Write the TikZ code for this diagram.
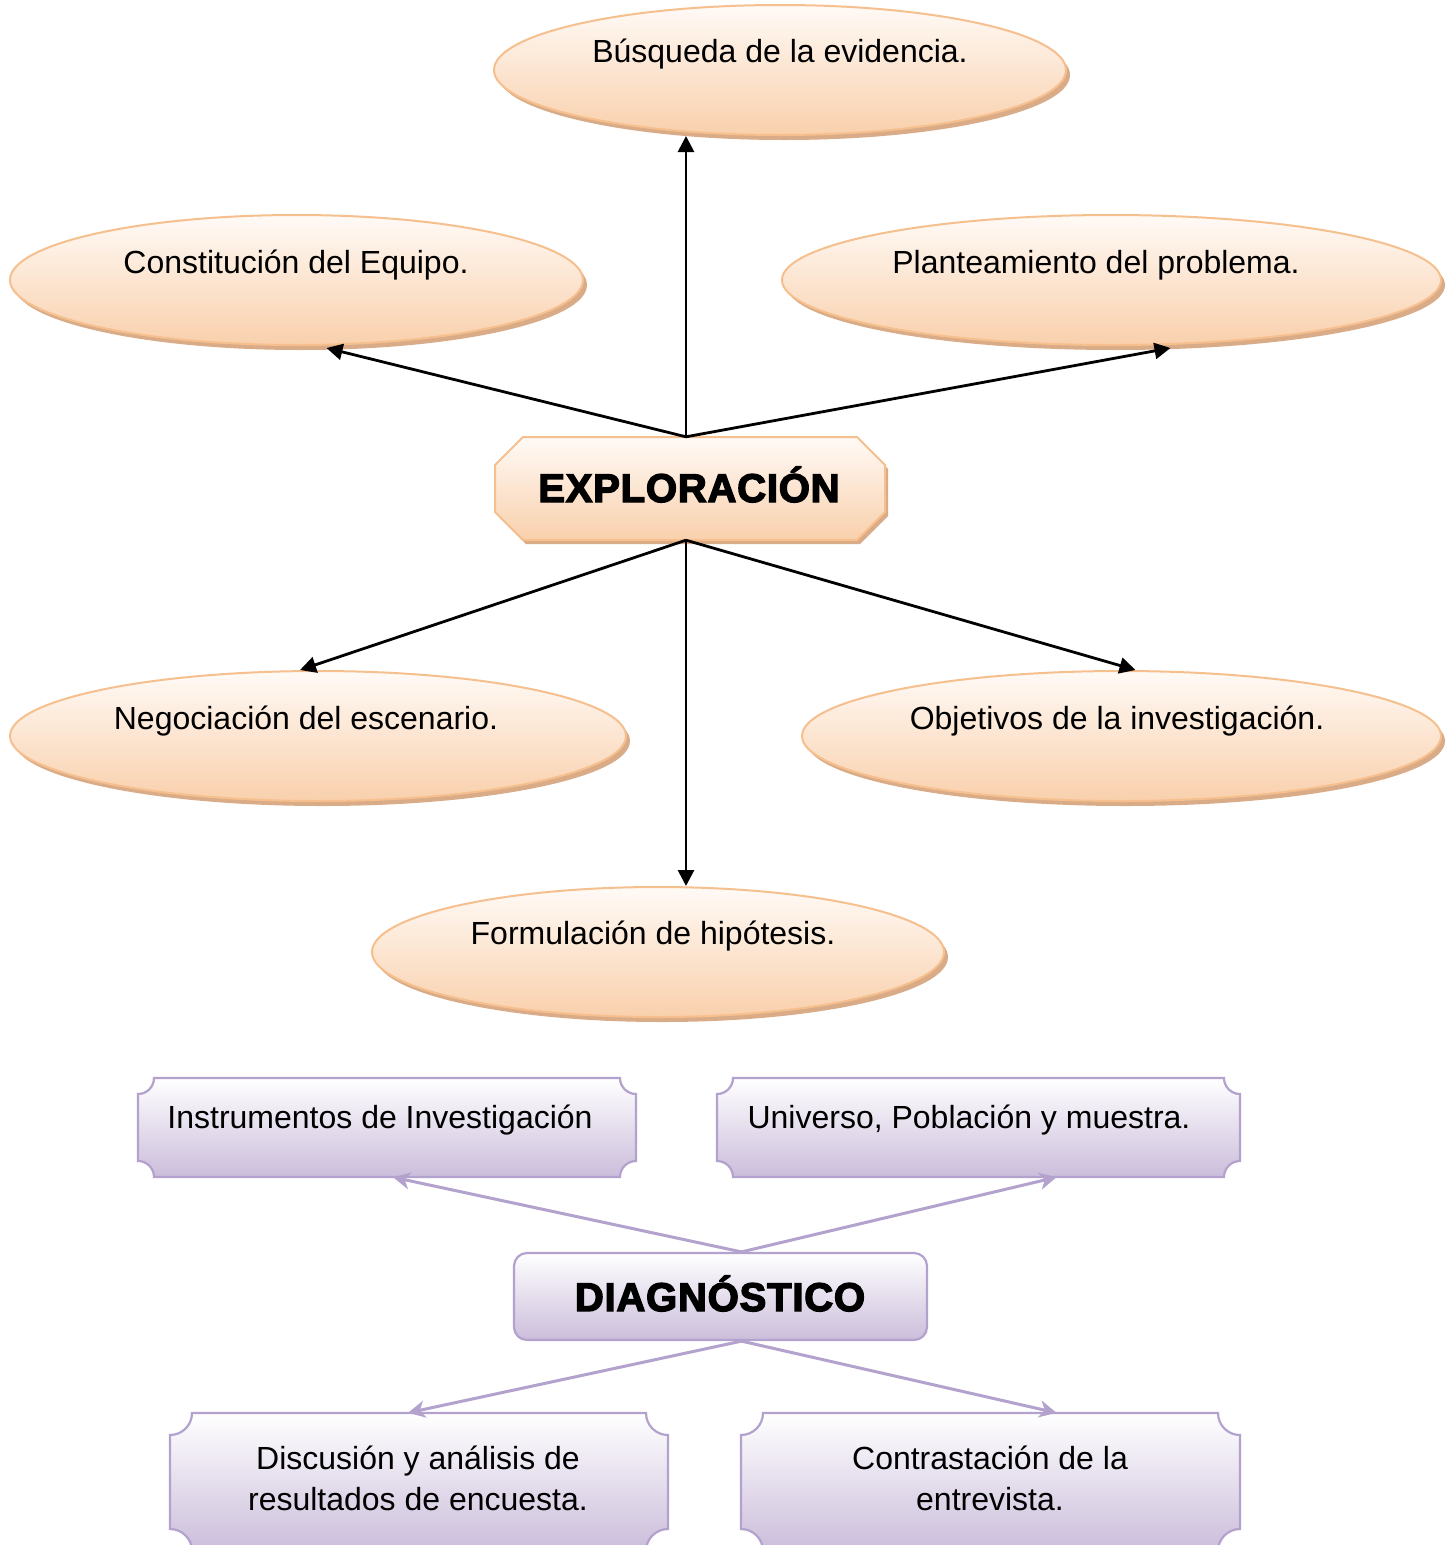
\documentclass[tikz,border=0pt]{standalone}
\usepackage{fontspec}
\setmainfont{Liberation Sans}
\newfontfamily\heavyfont{Liberation Sans}[BoldFeatures={FakeBold=3.5,LetterSpace=2}]
\usetikzlibrary{shapes.geometric,shapes.misc,shadows,arrows.meta,calc}
\definecolor{peachtop}{HTML}{FFFAF6}
\definecolor{peachbot}{HTML}{F9D0AC}
\definecolor{peachline}{HTML}{F6BF8E}
\definecolor{peachshadow}{HTML}{D9AB87}
\definecolor{lavtop}{HTML}{FFFFFF}
\definecolor{lavbot}{HTML}{CBBDDB}
\definecolor{lavline}{HTML}{B2A2CD}
\newcommand\plaque[5]{%
  \path[plaq] (#1+#5,#2) -- (#3-#5,#2) arc[start angle=180,end angle=90,radius=#5]
    -- (#3,#4-#5) arc[start angle=270,end angle=180,radius=#5]
    -- (#1+#5,#4) arc[start angle=0,end angle=-90,radius=#5]
    -- (#1,#2+#5) arc[start angle=90,end angle=0,radius=#5] -- cycle;}
\begin{document}
\begin{tikzpicture}[x=1pt,y=-1pt,
  ovalbox/.style={ellipse, draw=peachline, line width=2pt, top color=peachtop,
    bottom color=peachbot, inner sep=0pt, minimum height=130pt,
    drop shadow={shadow xshift=4pt, shadow yshift=-5pt, fill=peachshadow, opacity=1}},
  ovaltext/.style={font=\fontsize{32}{38}\selectfont, inner sep=0pt, anchor=base},
  octpath/.style={draw=peachline, line width=2pt, top color=peachtop, bottom color=peachbot,
    drop shadow={shadow xshift=3pt, shadow yshift=-4pt, fill=peachshadow, opacity=1}},
  heavytext/.style={font=\heavyfont\bfseries\fontsize{40}{48}\selectfont, inner sep=0pt, anchor=base},
  plaq/.style={draw=lavline, line width=2.2pt, top color=lavtop, bottom color=lavbot},
  anchorbox/.style={rectangle, inner sep=0pt, draw=none},
  boxtext/.style={font=\fontsize{32}{41}\selectfont, inner sep=0pt, align=center},
  diagbox/.style={rectangle, rounded corners=13pt, draw=lavline, line width=2.2pt,
    top color=lavtop, bottom color=lavbot, minimum width=413pt, minimum height=87pt,
    inner sep=0pt},
  blkarrow/.style={line width=2.8pt, -{Triangle[length=16pt,width=16pt]}},
  lavarrow/.style={draw=lavline, line width=3pt,
    -{Stealth[length=17pt,width=17pt,inset=5pt]}}
]
\useasboundingbox (0,0) rectangle (1452,1545);
\fill[white] (0,0) rectangle (1452,1545);

% ---- EXPLORACION section
\node[ovalbox, minimum width=572pt] (busq) at (780,70) {};
\node[ovaltext] (busqt) at (780,62) {Búsqueda de la evidencia.};
\node[ovalbox, minimum width=573pt] (const) at (296.5,280) {};
\node[ovaltext] (constt) at (296,273) {Constitución del Equipo.};
\node[ovalbox, minimum width=659pt] (plan) at (1111.5,280) {};
\node[ovaltext] (plant) at (1096,273) {Planteamiento del problema.};
\node[ovalbox, minimum width=616pt] (neg) at (318,736) {};
\node[ovaltext] (negt) at (306,729) {Negociación del escenario.};
\node[ovalbox, minimum width=639pt] (obj) at (1121.5,736) {};
\node[ovaltext] (objt) at (1117,729) {Objetivos de la investigación.};
\node[ovalbox, minimum width=572pt] (form) at (658,952) {};
\node[ovaltext] (formt) at (653,944) {Formulación de hipótesis.};

\path[octpath] (523,437) -- (857,437) -- (885,465) -- (885,512) -- (857,540)
  -- (523,540) -- (495,512) -- (495,465) -- cycle;
\node[anchorbox, minimum width=390pt, minimum height=103pt] (exp) at (690,488.5) {};
\node[heavytext] (expt) at (689,502) {EXPLORACIÓN};

\coordinate (et) at ([xshift=-4pt]exp.north);
\coordinate (eb) at ([xshift=-4pt]exp.south);
\draw[blkarrow] (et) -- (et |- busq.south);
\draw[blkarrow] (et) -- ([xshift=30pt,yshift=-2pt]const.south);
\draw[blkarrow] (et) -- ([xshift=59pt,yshift=-2pt]plan.south);
\draw[blkarrow] (eb) -- ([xshift=-18pt]neg.north);
\draw[blkarrow] (eb) -- ([xshift=14pt]obj.north);
\draw[blkarrow] (eb) -- (eb |- form.north);

% ---- DIAGNOSTICO section
\plaque{138}{1078}{636}{1177}{16}
\plaque{717}{1078}{1240}{1177}{16}
\plaque{170}{1413}{668}{1551}{22}
\plaque{741}{1413}{1240}{1551}{22}
\node[anchorbox, minimum width=498pt, minimum height=99pt] (inst) at (387,1127.5) {};
\node[anchorbox, minimum width=523pt, minimum height=99pt] (univ) at (978.5,1127.5) {};
\node[anchorbox, minimum width=498pt, minimum height=138pt] (disc) at (419,1482) {};
\node[anchorbox, minimum width=499pt, minimum height=138pt] (contr) at (990.5,1482) {};

\node[boxtext, anchor=base] (instt) at (380,1128) {Instrumentos de Investigación};
\node[boxtext, anchor=base] (univt) at (969,1128) {Universo, Población y muestra.};
\node[boxtext, anchor=base] (disct1) at (418,1469) {Discusión y análisis de};
\node[boxtext, anchor=base] (disct2) at (418,1510) {resultados de encuesta.};
\node[boxtext, anchor=base] (contrt1) at (990,1469) {Contrastación de la};
\node[boxtext, anchor=base] (contrt2) at (990,1510) {entrevista.};

\node[diagbox] (diag) at (720.5,1296.5) {};
\node[heavytext] (diagt) at (720,1311) {DIAGNÓSTICO};

\draw[lavarrow] ([xshift=21pt]diag.north) -- ([xshift=6pt]inst.south);
\draw[lavarrow] ([xshift=21pt]diag.north) -- ([xshift=78pt]univ.south);
\draw[lavarrow] ([xshift=21pt]diag.south) -- ([xshift=-11pt]disc.north);
\draw[lavarrow] ([xshift=21pt]diag.south) -- ([xshift=66pt]contr.north);
\end{tikzpicture}
\end{document}
